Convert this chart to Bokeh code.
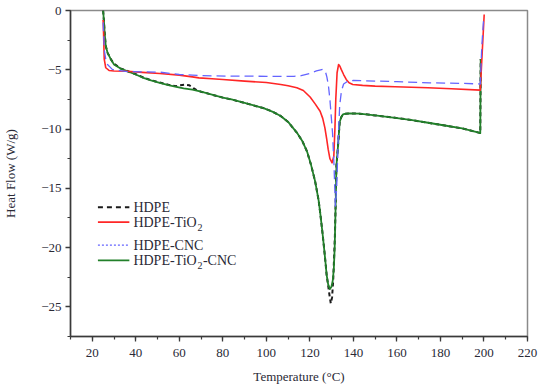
from bokeh.plotting import figure
from bokeh.models import ColumnDataSource, Range1d, SingleIntervalTicker
from bokeh.core.properties import value
from bokeh.embed import file_html
from bokeh.resources import INLINE

# ---------------- data ----------------
t_hdpe = [25.0, 25.4, 25.7, 26.2, 27.0, 28.5, 30, 33, 36, 40, 43.5, 47, 51, 55, 58.6,
          60.5, 62.5, 64.5, 66.5, 68, 70, 75, 80, 84, 90, 95, 99, 103, 106.6, 110, 114,
          116.5, 118.7, 120.5, 122.4, 124.0, 124.7, 125.7, 126.5, 127.2, 127.7, 128.4,
          129.0, 129.6, 130.2, 130.7, 131.1, 131.5, 131.9, 132.2, 132.9, 133.7, 134.4,
          135.2, 136.5, 138.2, 142.7, 150, 159.2, 167, 174.3, 182, 190, 197.6, 198.3,
          198.4, 198.5]
hf_hdpe = [0, -1.0, -1.9, -3.0, -3.55, -4.1, -4.5, -4.88, -5.1, -5.38, -5.65, -5.88,
           -6.08, -6.27, -6.38, -6.3, -6.26, -6.3, -6.55, -6.72, -6.85, -7.1, -7.35, -7.5,
           -7.8, -8.05, -8.25, -8.55, -8.9, -9.4, -10.3, -11.0, -11.9, -13.0, -14.4, -16.0,
           -17.0, -18.6, -20.0, -21.3, -22.3, -23.2, -24.0, -24.7, -24.2, -22.8, -21.0,
           -19.0, -15.9, -13.1, -11.5, -9.4, -9.0, -8.77, -8.7, -8.68, -8.7, -8.85, -9.05,
           -9.25, -9.47, -9.7, -9.95, -10.3, -10.35, -7.0, -4.1]

t_tio2 = [25.0, 25.2, 25.5, 26.2, 27.7, 30, 36, 43, 51, 60, 66, 69, 75, 80, 90, 100,
          106.6, 110, 114, 117, 120.1, 122.5, 124.7, 125.9, 126.9, 127.7, 128.4, 129.2,
          130.2, 131.0, 131.5, 131.9, 132.5, 133.2, 133.8, 134.4, 135.5, 136.7, 138,
          139.7, 144.2, 150, 159.2, 174.2, 185, 198.3, 199.2, 200.1]
hf_tio2 = [-0.8, -2.0, -4.1, -4.83, -5.06, -5.1, -5.12, -5.22, -5.31, -5.45, -5.6, -5.68,
           -5.76, -5.82, -5.96, -6.08, -6.24, -6.35, -6.52, -6.75, -7.3, -7.9, -8.5, -9.1,
           -9.9, -10.8, -11.7, -12.5, -12.85, -12.3, -10.0, -7.5, -5.25, -4.55, -4.7,
           -4.97, -5.4, -5.82, -6.1, -6.24, -6.32, -6.38, -6.43, -6.52, -6.6, -6.72, -3.5,
           -0.34]

t_cnc = [25.0, 25.2, 25.5, 26.2, 27.0, 29.2, 33, 36, 43, 51, 60, 66, 75, 90, 100, 112.7,
         116, 120, 123, 125, 126, 127.2, 127.8, 128.5, 129.2, 130.4, 131.1, 131.7, 132.3,
         133.0, 133.7, 134.5, 135.5, 137.5, 140, 150, 160, 175, 190, 198.3, 199.0, 199.8]
hf_cnc = [-1.0, -1.8, -3.3, -4.1, -4.55, -4.97, -5.08, -5.15, -5.18, -5.2, -5.4, -5.45,
          -5.52, -5.54, -5.55, -5.55, -5.5, -5.3, -5.1, -5.0, -4.95, -5.2, -5.6, -6.3,
          -7.5, -10.3, -13.1, -16.5, -15.0, -11.0, -8.0, -6.8, -6.2, -5.95, -5.9, -5.95,
          -6.0, -6.1, -6.15, -6.2, -3.0, -0.8]

t_tio2_cnc = [25.0, 25.4, 25.7, 26.2, 27.0, 28.5, 30, 33, 36, 40, 43.5, 47, 51, 55, 58.6,
              62, 66, 70, 75, 80, 84, 90, 95, 99, 103, 106.6, 110, 114, 116.5, 118.7,
              120.5, 122.4, 124.0, 124.7, 125.7, 126.5, 127.2, 127.7, 128.4, 129.2, 129.9,
              130.5, 131.0, 131.4, 131.9, 132.2, 132.9, 133.7, 134.4, 135.2, 136.5, 138.2,
              142.7, 150, 159.2, 167, 174.3, 182, 190, 197.6, 198.3, 198.4, 198.5]
hf_tio2_cnc = [0, -1.0, -1.9, -3.0, -3.55, -4.1, -4.55, -4.9, -5.12, -5.4, -5.68, -5.9,
               -6.1, -6.3, -6.44, -6.57, -6.68, -6.85, -7.1, -7.35, -7.5, -7.8, -8.05,
               -8.25, -8.55, -8.9, -9.4, -10.3, -11.0, -11.9, -13.0, -14.4, -16.0, -17.0,
               -18.6, -20.0, -21.3, -22.3, -23.1, -23.5, -23.3, -22.8, -21.8, -20.0, -15.9,
               -13.1, -11.5, -9.4, -9.0, -8.77, -8.7, -8.68, -8.7, -8.85, -9.05, -9.25,
               -9.47, -9.7, -9.95, -10.3, -10.35, -7.0, -4.1]

legend_main = ["HDPE", "HDPE-TiO", "HDPE-CNC", "HDPE-TiO"]
legend_sub = ["", "2", "", "2"]
legend_tail = ["", "", "", "-CNC"]

x_title = "Temperature (°C)"
y_title = "Heat Flow (W/g)"

# ---------------- styles ----------------
SERIF = "Liberation Serif"
TXT = "#2a2a36"
styles = [
    dict(color="#1a1a1a", width=2.0, dash="4 3", legend_dash="5 4"),
    dict(color="#ff2626", width=1.6, dash="solid", legend_dash="solid"),
    dict(color="#6464ff", width=1.3, dash="9 5", legend_dash="2 2"),
    dict(color="#22802a", width=1.8, dash="solid", legend_dash="solid"),
]

p = figure(width=540, height=386, output_backend="svg", toolbar_location=None,
           x_range=Range1d(10, 220), y_range=Range1d(-27.5, 0),
           min_border_left=61, min_border_right=13, min_border_top=10,
           min_border_bottom=50)
p.background_fill_color = "white"
p.border_fill_color = "white"
p.outline_line_color = "#8a8a8a"
p.outline_line_width = 1.5
p.xgrid.visible = False
p.ygrid.visible = False

series = [(t_hdpe, hf_hdpe), (t_tio2, hf_tio2), (t_cnc, hf_cnc), (t_tio2_cnc, hf_tio2_cnc)]
order = [0, 3, 1, 2]
for i in order:
    t, h = series[i]
    st = styles[i]
    src = ColumnDataSource(dict(t=t, h=h))
    p.line("t", "h", source=src, line_color=st["color"], line_width=st["width"],
           line_dash=st["dash"], line_join="round")

# axes
p.xaxis.ticker = SingleIntervalTicker(interval=20, num_minor_ticks=2)
p.yaxis.ticker = SingleIntervalTicker(interval=5, num_minor_ticks=2)
for ax in (p.xaxis[0], p.yaxis[0]):
    ax.axis_line_color = "#3a3a3a"
    ax.axis_line_width = 1.5
    ax.major_tick_line_color = "#3a3a3a"
    ax.minor_tick_line_color = "#3a3a3a"
    ax.major_tick_line_width = 1.3
    ax.minor_tick_line_width = 1.2
    ax.major_tick_in = 0
    ax.major_tick_out = 5
    ax.minor_tick_in = 0
    ax.minor_tick_out = 3
    ax.major_label_text_font = SERIF
    ax.major_label_text_font_size = "13px"
    ax.major_label_text_color = TXT
    ax.major_label_standoff = 4
    ax.axis_label_text_font = SERIF
    ax.axis_label_text_font_size = "13px"
    ax.axis_label_text_font_style = "normal"
    ax.axis_label_text_color = TXT

p.xaxis.major_label_standoff = 7
p.xaxis.axis_label = x_title
p.xaxis.axis_label_standoff = 9
p.yaxis.axis_label = y_title
p.yaxis.axis_label_standoff = 20

# ---------------- manual legend ----------------
leg_x0, leg_x1, leg_tx = 22.6, 37.05, 38.9
leg_rows = [-16.59, -17.85, -19.79, -21.08]
for k, idx in enumerate([0, 1, 2, 3]):
    st = styles[idx]
    yk = leg_rows[k]
    p.line([leg_x0, leg_x1], [yk, yk], line_color=st["color"], line_width=st["width"],
           line_dash=st["legend_dash"])
    p.text(x=[leg_tx], y=[yk], text=[legend_main[k]], text_font=value(SERIF),
           text_font_size="14px", text_color=TXT, text_baseline="middle",
           text_align="left")
    if legend_sub[k]:
        p.text(x=[leg_tx], y=[yk], text=[legend_sub[k]], text_font=value(SERIF),
               text_font_size="10px", text_color=TXT, text_baseline="middle",
               text_align="left", x_offset=64, y_offset=5)
    if legend_tail[k]:
        p.text(x=[leg_tx], y=[yk], text=[legend_tail[k]], text_font=value(SERIF),
               text_font_size="14px", text_color=TXT, text_baseline="middle",
               text_align="left", x_offset=69.5)

open("out.html", "w").write(file_html(p, INLINE))
